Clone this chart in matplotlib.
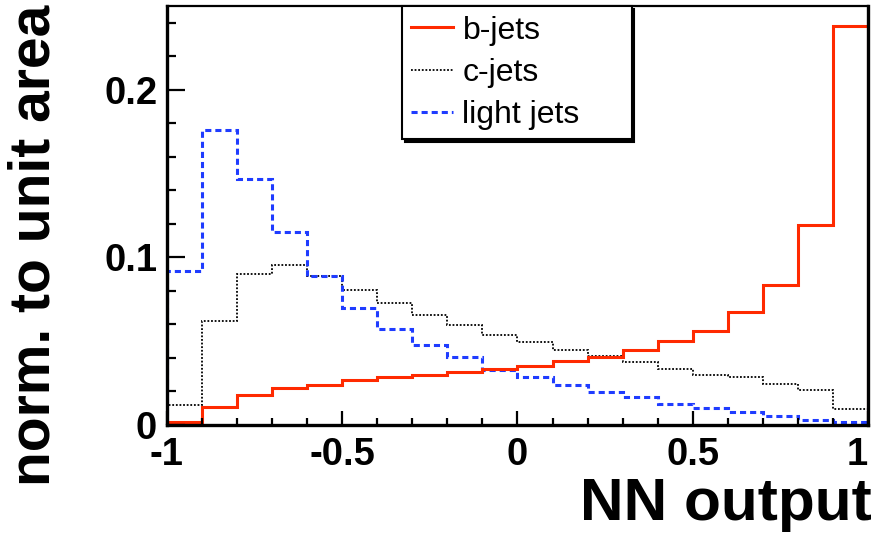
import numpy as np
import matplotlib
matplotlib.use('Agg')
import matplotlib.pyplot as plt

plt.rcParams['font.family'] = ['Liberation Sans', 'DejaVu Sans']

# 20 bins from -1 to 1
bin_edges = np.linspace(-1, 1, 21)

b_jets = [0.0018, 0.0107, 0.0177, 0.0220, 0.0240, 0.0266, 0.0284, 0.0300, 0.0314, 0.0336,
          0.0354, 0.0380, 0.0404, 0.0445, 0.0503, 0.0559, 0.0672, 0.0833, 0.1195, 0.2380]
c_jets = [0.0117, 0.0618, 0.0900, 0.0956, 0.0890, 0.0803, 0.0728, 0.0658, 0.0598, 0.0539,
          0.0493, 0.0449, 0.0410, 0.0376, 0.0336, 0.0300, 0.0284, 0.0245, 0.0207, 0.0095]
light_jets = [0.0920, 0.1760, 0.1470, 0.1150, 0.0887, 0.0698, 0.0573, 0.0479, 0.0406, 0.0330,
              0.0286, 0.0237, 0.0197, 0.0167, 0.0125, 0.0101, 0.0078, 0.0052, 0.0028, 0.0018]

xticks = [-1, -0.5, 0, 0.5, 1]
xtick_labels = ['-1', '-0.5', '0', '0.5', '1']
yticks = [0, 0.1, 0.2]
ytick_labels = ['0', '0.1', '0.2']

fig = plt.figure(figsize=(8.76, 5.48), dpi=100)
ax = fig.add_axes([0.1906, 0.2245, 0.8002, 0.7646])

ax.stairs(c_jets, bin_edges, color='black', lw=1.3, ls=(0, (1.0, 1.0)), label='c-jets')
ax.stairs(light_jets, bin_edges, color='#1f3cff', lw=2.2, ls=(0, (2.0, 1.3)), label='light jets')
ax.stairs(b_jets, bin_edges, color='#ff2a00', lw=2.2, label='b-jets')

ax.set_xlim(-1, 1)
ax.set_ylim(0, 0.25)

ax.set_xticks(xticks)
ax.set_xticklabels(xtick_labels)
ax.set_xticks(np.arange(-1, 1.001, 0.1), minor=True)
ax.set_yticks(yticks)
ax.set_yticklabels(ytick_labels)
ax.set_yticks(np.arange(0, 0.2501, 0.02), minor=True)

ax.tick_params(which='both', direction='in', top=False, right=False, width=1.6)
ax.tick_params(axis='x', which='major', length=10, pad=9, labelsize=27.5)
ax.tick_params(axis='x', which='minor', length=5)
ax.tick_params(axis='y', which='major', length=13, pad=7, labelsize=27.5)
ax.tick_params(axis='y', which='minor', length=6.5)
for lab in ax.get_xticklabels() + ax.get_yticklabels():
    lab.set_fontweight('bold')
# keep the last label inside the figure, like the reference
ax.get_xticklabels()[-1].set_ha('right')
ax.get_xticklabels()[-1].set_x(1.0)

for side in ['left', 'bottom', 'right']:
    ax.spines[side].set_linewidth(2.4)
ax.spines['top'].set_linewidth(1.6)

ax.set_xlabel('NN output', fontsize=43.5, fontweight='bold', loc='right')
ax.xaxis.set_label_coords(1.0057, -0.2267)
ax.xaxis.label.set_va('baseline')
ax.set_ylabel('norm. to unit area', fontsize=41, fontweight='bold', loc='top')
ax.yaxis.set_label_coords(-0.167, 1.0024)
ax.yaxis.label.set_va('baseline')

handles, labels = ax.get_legend_handles_labels()
order = [2, 0, 1]
leg = ax.legend([handles[i] for i in order], [labels[i] for i in order],
                loc='upper left', bbox_to_anchor=(0.335, 0.692, 0.328, 0.308),
                mode='expand', borderaxespad=0, fontsize=23, handlelength=1.3,
                handletextpad=0.3, labelspacing=0.38, borderpad=0.3,
                fancybox=False, frameon=True, edgecolor='black',
                shadow={'color': 'black', 'alpha': 1})
leg.get_frame().set_linewidth(1.5)

fig.savefig('out.png', dpi=100)
